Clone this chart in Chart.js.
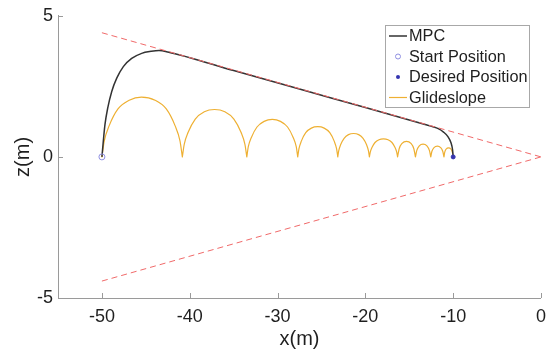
<!DOCTYPE html>
<html>
<head>
<meta charset="utf-8">
<script src="https://cdn.jsdelivr.net/npm/chart.js@4"></script>
<style>
  html, body { margin: 0; padding: 0; background: #fff; }
</style>
</head>
<body>
<canvas id="trajChart" width="554" height="353"></canvas>
<script>
// Axis ticks
const xTicks = [-50, -40, -30, -20, -10, 0];
const yTicks = [-5, 0, 5];

// MPC trajectory
const mpcX = [-50, -49.84, -49.65, -49.34, -48.88, -48.31, -47.56, -46.61, -45.47, -44.4, -43.5, -42.5,
  -35, -27, -20, -13.2, -12.3, -11.7, -11.1, -10.6, -10.25, -10.07, -10];
const mpcY = [0, 0.56, 1.15, 1.73, 2.32, 2.79, 3.20, 3.49, 3.67, 3.74, 3.77, 3.72,
  3.06, 2.36, 1.75, 1.15, 1.07, 1.0, 0.88, 0.72, 0.5, 0.25, 0];

// Start / desired positions
const startPos = [-50, 0];
const desiredPos = [-10, 0];

// Approach cone (dashed)
const coneX = [-50, 0];
const coneUpperY = [4.4, 0];
const coneLowerY = [-4.4, 0];

// Glideslope hops, null = break between hops
const glideX = [
  -50, -49.73, -49.18, -48.17, -46.89, -45.5, -43.95, -42.67, -41.66, -41.11, -40.84, -40.84,
  -40.84, -40.62, -40.18, -39.37, -38.34, -37.17, -36.0, -34.97, -34.16, -33.72, -33.5, -33.5,
  -33.5, -33.33, -32.98, -32.34, -31.53, -30.6, -29.67, -28.86, -28.22, -27.87, -27.7, -27.7,
  -27.7, -27.56, -27.29, -26.79, -26.15, -25.42, -24.69, -24.05, -23.55, -23.28, -23.14, -23.14,
  -23.14, -23.03, -22.82, -22.42, -21.92, -21.34, -20.76, -20.26, -19.86, -19.65, -19.54, -19.54,
  -19.54, -19.44, -19.25, -18.9, -18.45, -17.94, -17.42, -16.97, -16.62, -16.43, -16.33, -16.33,
  -16.33, -16.15, -15.82, -15.32, -14.81, -14.48, -14.3, -14.3,
  -14.3, -14.14, -13.86, -13.43, -12.99, -12.71, -12.55, -12.55,
  -12.55, -12.42, -12.18, -11.8, -11.43, -11.19, -11.05, -11.05,
  -11.05, -10.96, -10.79, -10.53, -10.26, -10.1, -10.0
];
const glideY = [
  0, 0.57, 1.10, 1.70, 2.01, 2.12, 2.01, 1.70, 1.10, 0.57, 0, null,
  0, 0.45, 0.87, 1.34, 1.60, 1.68, 1.60, 1.34, 0.87, 0.45, 0, null,
  0, 0.36, 0.69, 1.06, 1.26, 1.33, 1.26, 1.06, 0.69, 0.36, 0, null,
  0, 0.29, 0.56, 0.86, 1.02, 1.07, 1.02, 0.86, 0.56, 0.29, 0, null,
  0, 0.22, 0.43, 0.66, 0.79, 0.83, 0.79, 0.66, 0.43, 0.22, 0, null,
  0, 0.17, 0.33, 0.51, 0.61, 0.64, 0.61, 0.51, 0.33, 0.17, 0, null,
  0, 0.29, 0.48, 0.55, 0.48, 0.29, 0, null,
  0, 0.23, 0.39, 0.45, 0.39, 0.23, 0, null,
  0, 0.20, 0.33, 0.38, 0.33, 0.20, 0, null,
  0, 0.17, 0.28, 0.32, 0.28, 0.17, 0
];

const fontFamily = "'Liberation Sans', Arial, Helvetica, sans-serif";
const textColor = '#1f1f1f';
const axisColor = '#9a9a9a';

const toPoints = (xs, ys) => xs.map((x, i) => ({ x: x, y: ys[i] }));

// small inward tick marks like MATLAB
const innerTicks = {
  id: 'innerTicks',
  afterDraw(chart) {
    const { ctx, chartArea: a, scales: { x, y } } = chart;
    ctx.save();
    ctx.strokeStyle = axisColor;
    ctx.lineWidth = 1;
    ctx.beginPath();
    xTicks.forEach(v => {
      const px = Math.round(x.getPixelForValue(v)) + 0.5;
      ctx.moveTo(px, a.bottom);
      ctx.lineTo(px, a.bottom - 5);
    });
    yTicks.forEach(v => {
      const py = Math.round(y.getPixelForValue(v)) + 0.5;
      ctx.moveTo(a.left, py);
      ctx.lineTo(a.left + 5, py);
    });
    ctx.stroke();
    ctx.restore();
  }
};

// boxed legend in the upper right, MATLAB style
const boxLegend = {
  id: 'boxLegend',
  afterDraw(chart) {
    const ctx = chart.ctx;
    const items = chart.data.datasets.filter(d => d.label);
    const left = 385.5, top = 25.5, w = 144, h = 82;
    ctx.save();
    ctx.fillStyle = '#fff';
    ctx.fillRect(left, top, w, h);
    ctx.strokeStyle = '#a8a8a8';
    ctx.lineWidth = 1;
    ctx.strokeRect(left, top, w, h);
    ctx.font = '16.3px ' + fontFamily;
    ctx.textBaseline = 'middle';
    ctx.textAlign = 'left';
    items.forEach((d, i) => {
      const cy = 36 + i * 20.5;
      if (d.showLine) {
        ctx.strokeStyle = d.borderColor;
        ctx.lineWidth = d.borderWidth;
        ctx.beginPath();
        ctx.moveTo(389, cy);
        ctx.lineTo(407, cy);
        ctx.stroke();
      } else {
        ctx.beginPath();
        ctx.arc(398, cy, d.legendRadius, 0, Math.PI * 2);
        if (d.legendFill) {
          ctx.fillStyle = d.pointBackgroundColor;
          ctx.fill();
        } else {
          ctx.strokeStyle = d.pointBorderColor;
          ctx.lineWidth = 1;
          ctx.stroke();
        }
      }
      ctx.fillStyle = textColor;
      ctx.fillText(d.label, 409, cy + 1);
    });
    ctx.restore();
  }
};

const ctx = document.getElementById('trajChart').getContext('2d');
const trajChart = new Chart(ctx, {
  type: 'scatter',
  data: {
    datasets: [
      {
        label: 'MPC',
        data: toPoints(mpcX, mpcY),
        showLine: true,
        borderColor: '#333333',
        borderWidth: 1.5,
        pointRadius: 0,
        cubicInterpolationMode: 'monotone',
        order: 4
      },
      {
        label: 'Start Position',
        data: [{ x: startPos[0], y: startPos[1] }],
        showLine: false,
        pointStyle: 'circle',
        pointRadius: 3,
        pointBorderWidth: 1,
        pointBorderColor: '#9090e2',
        pointBackgroundColor: 'rgba(0,0,0,0)',
        legendRadius: 2.5,
        legendFill: false,
        order: 0
      },
      {
        label: 'Desired Position',
        data: [{ x: desiredPos[0], y: desiredPos[1] }],
        showLine: false,
        pointStyle: 'circle',
        pointRadius: 2,
        pointBorderWidth: 1,
        pointBorderColor: '#3434b0',
        pointBackgroundColor: '#3434b0',
        legendRadius: 2,
        legendFill: true,
        order: 1
      },
      {
        label: 'Glideslope',
        data: toPoints(glideX, glideY),
        showLine: true,
        spanGaps: false,
        borderColor: '#eeb033',
        borderWidth: 1.2,
        borderCapStyle: 'round',
        pointRadius: 0,
        cubicInterpolationMode: 'monotone',
        order: 5
      },
      {
        data: toPoints(coneX, coneUpperY),
        showLine: true,
        borderColor: '#f06a6a',
        borderWidth: 1,
        borderDash: [6, 4],
        pointRadius: 0,
        order: 2
      },
      {
        data: toPoints(coneX, coneLowerY),
        showLine: true,
        borderColor: '#f06a6a',
        borderWidth: 1,
        borderDash: [6, 4],
        pointRadius: 0,
        order: 3
      }
    ]
  },
  options: {
    responsive: false,
    animation: false,
    layout: { padding: { top: 14, right: 13, bottom: 0, left: 0 } },
    plugins: {
      legend: { display: false },
      tooltip: { enabled: false }
    },
    scales: {
      x: {
        type: 'linear',
        min: -55,
        max: 0,
        afterBuildTicks: s => { s.ticks = xTicks.map(v => ({ value: v })); },
        afterFit: s => { s.height = 55; },
        grid: { display: false, drawTicks: false },
        border: { display: true, color: axisColor, width: 1 },
        ticks: {
          padding: 8,
          color: textColor,
          font: { family: fontFamily, size: 18 },
          maxRotation: 0,
          autoSkip: false
        },
        title: {
          display: true,
          text: 'x(m)',
          color: textColor,
          font: { family: fontFamily, size: 20 },
          padding: { top: 0, bottom: 2 }
        }
      },
      y: {
        type: 'linear',
        min: -5,
        max: 5,
        afterBuildTicks: s => { s.ticks = yTicks.map(v => ({ value: v })); },
        afterFit: s => { s.width = 58; },
        grid: { display: false, drawTicks: false },
        border: { display: true, color: axisColor, width: 1 },
        ticks: {
          padding: 5,
          color: textColor,
          font: { family: fontFamily, size: 18 }
        },
        title: {
          display: true,
          text: 'z(m)',
          color: textColor,
          font: { family: fontFamily, size: 20 },
          padding: { top: 11, bottom: 0 }
        }
      }
    }
  },
  plugins: [innerTicks, boxLegend]
});
</script>
</body>
</html>
